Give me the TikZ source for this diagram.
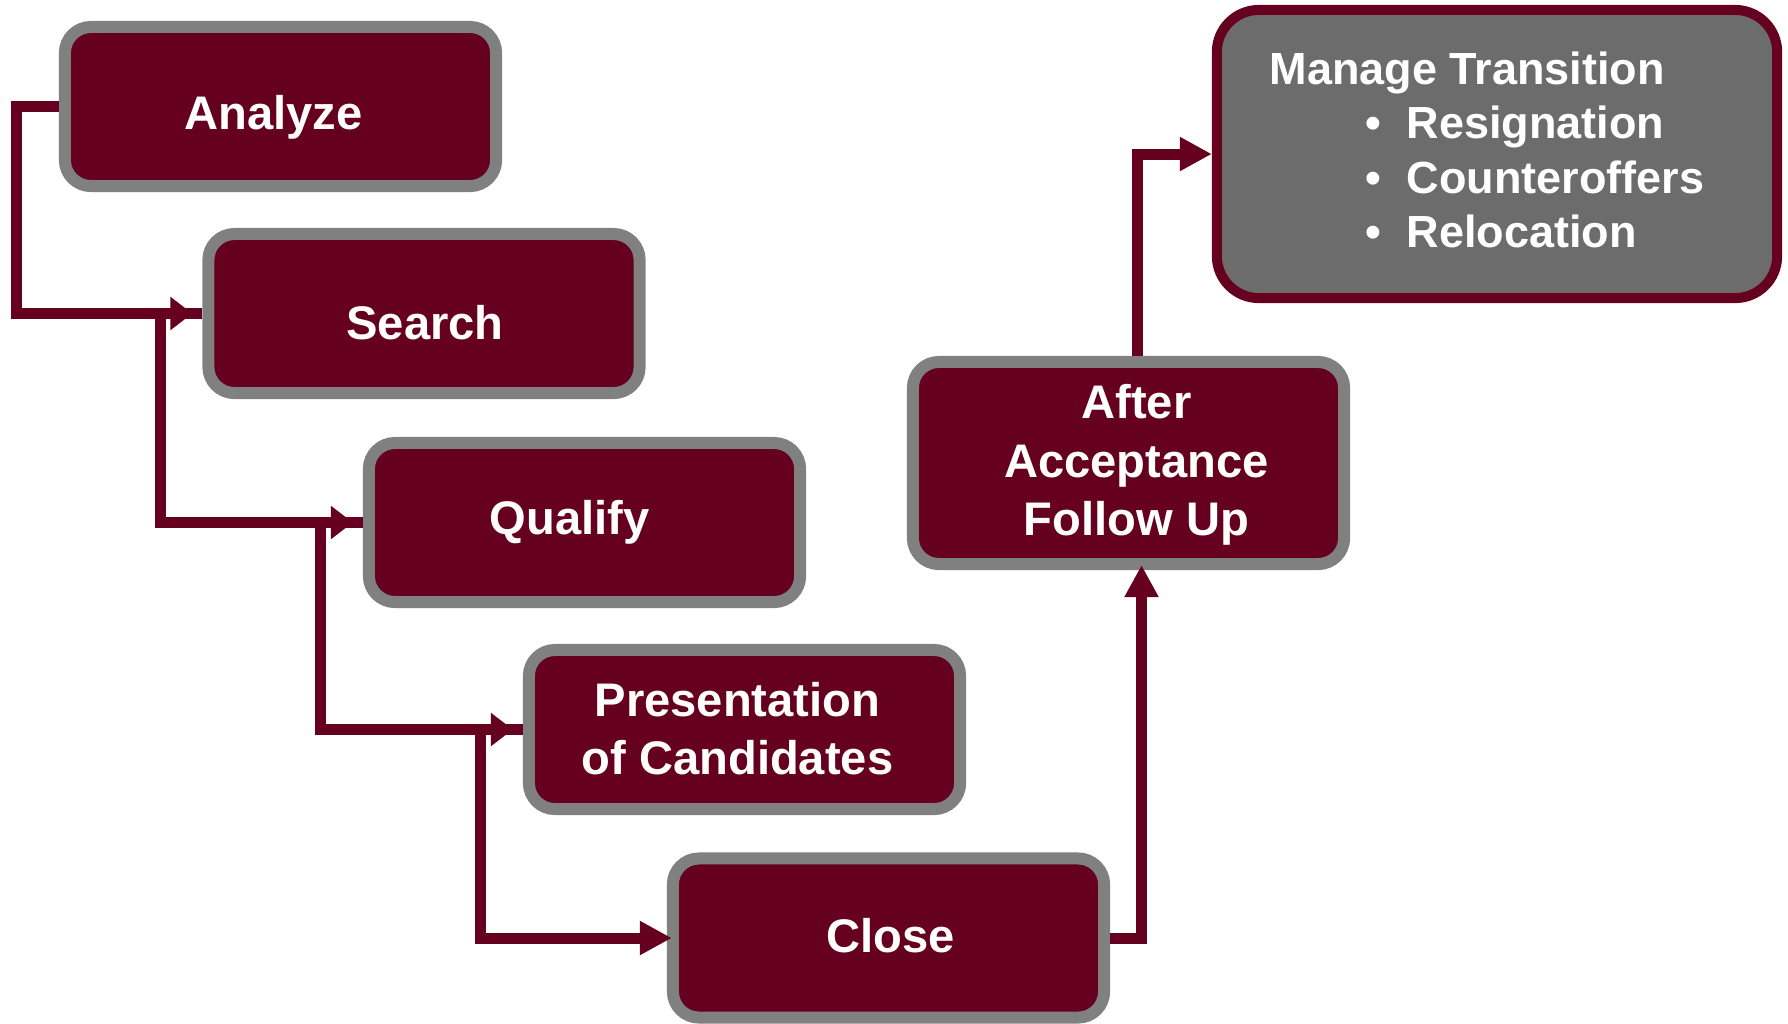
\documentclass[tikz,border=0pt]{standalone}
\usepackage{fontspec}
\setmainfont{Liberation Sans}
\usepackage{tikz}
\usetikzlibrary{positioning,arrows.meta,calc}
\definecolor{wine}{RGB}{102,0,32}
\definecolor{rim}{RGB}{128,128,128}
\definecolor{slate}{RGB}{108,108,108}
\tikzset{
	stage/.style = {draw=rim, fill=wine, line width=0.12cm, rounded corners=0.26cm, minimum width=4.31cm, minimum height=1.59cm, inner sep=0},
	final/.style = {draw=wine, fill=slate, line width=0.1cm, rounded corners=0.42cm, minimum width=5.6cm, minimum height=2.88cm, inner sep=0},
	word/.style = {text=white, inner sep=0, align=center, font=\fontsize{13.4}{16.6}\selectfont\bfseries},
	list/.style = {text=white, inner sep=0, align=left, font=\fontsize{12.8}{15.5}\selectfont\bfseries},
	flow/.style = {draw=wine, line width=0.11cm, -{Triangle[length=0.32cm,width=0.32cm]}},
	feed/.style = {draw=wine, line width=0.11cm, -{Triangle[length=0.22cm,width=0.32cm] Rectangle[length=0.1cm,width=0.11cm]}}
}
\newcommand{\bul}{\hspace*{0.96cm}\makebox[0.41cm][l]{\textbullet}}

\begin{document}
\begin{tikzpicture}[x=0.01cm, y=-0.01cm]
	\useasboundingbox (0,0) rectangle (1788,1023);
	
	\node [stage, label={[word, name=an-t, xshift=-0.07cm, yshift=-0.11cm]center:Analyze}] (an) at (280.5,106.5) {};
	\node [stage, label={[word, name=se-t, xshift=0.01cm, yshift=-0.09cm]center:Search}] (se) at (424,313.5) {};
	\node [stage, label={[word, name=qu-t, xshift=-0.15cm]center:Qualify}] (qu) at (584.5,522.5) {};
	\node [stage, label={[word, name=pr-t, xshift=-0.07cm, yshift=0.01cm]center:Presentation\\of Candidates}] (pr) at (744.5,729.5) {};
	\node [stage, label={[word, name=cl-t, xshift=0.02cm, yshift=0.02cm]center:Close}] (cl) at (888.5,938) {};
	\node [stage, minimum height=2.02cm, label={[word, name=af-t, xshift=0.08cm, yshift=-0.02cm]center:After\\Acceptance\\Follow Up}] (af) at (1128.5,463) {};
	\node [final, label={[list, name=mt-t, xshift=-0.1cm, yshift=0.04cm]center:Manage Transition\\\bul Resignation\\\bul Counteroffers\\\bul Relocation}] (mt) at (1497,154) {};
	
	\draw [feed] (an.west) -- ++(-42,0) |- (se.west);
	\draw [feed] (se.west) -- ++(-42,0) |- (qu.west);
	\draw [feed] (qu.west) -- ++(-42,0) |- (pr.west);
	\draw [flow] (pr.west) -- ++(-42,0) |- ([xshift=0.05cm]cl.west);
	\draw [flow] (cl.east) -| ([xshift=0.13cm, yshift=0.05cm]af.south);
	\draw [flow] ([xshift=0.09cm]af.north) |- (mt.west);
\end{tikzpicture}
\end{document}
